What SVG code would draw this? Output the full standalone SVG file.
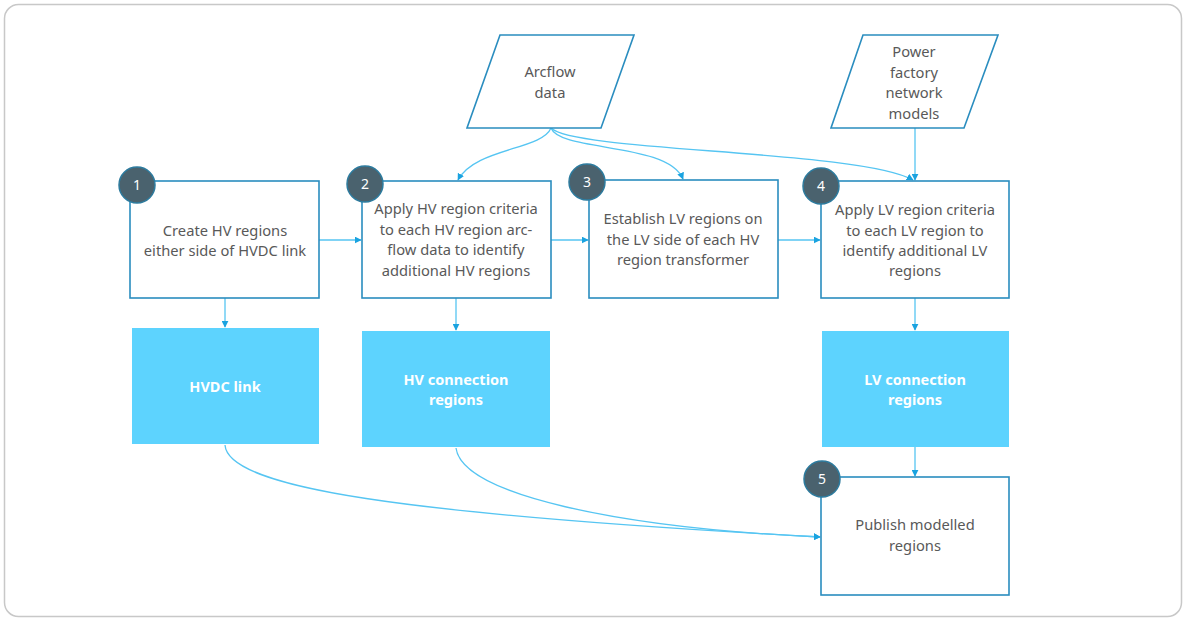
<svg xmlns="http://www.w3.org/2000/svg" width="1186" height="621" viewBox="0 0 1186 621">
<defs>
<marker id="ah" viewBox="0 0 10 10" refX="9" refY="5" markerWidth="7" markerHeight="7" markerUnits="userSpaceOnUse" orient="auto">
<path d="M0,0 L10,5 L0,10 z" fill="#1aa3e0"/>
</marker>
<style>
.box{fill:#ffffff;stroke:#2a8dbf;stroke-width:1.6}
.fill{fill:#5dd3fe;stroke:none}
.num{fill:#4a626e;stroke:#2d7b9e;stroke-width:1.5}
.t{font-family:"Noto Sans","Open Sans",sans-serif;font-size:14.7px;fill:#595959;text-anchor:middle}
.w{font-family:"Noto Sans","Open Sans",sans-serif;font-size:14.5px;font-weight:bold;fill:#ffffff;text-anchor:middle}
.n{font-family:"Noto Sans","Open Sans",sans-serif;font-size:14px;fill:#ffffff;text-anchor:middle}
.c{fill:none;stroke:#56c5f2;stroke-width:1.3;marker-end:url(#ah)}
</style>
</defs>
<rect x="4.5" y="4.5" width="1177" height="612" rx="14" fill="#ffffff" stroke="#c8c8c8" stroke-width="1.5"/>

<g id="connectors">
<path class="c" d="M319,240 L361,240"/>
<path class="c" d="M551,240 L588,240"/>
<path class="c" d="M778,240 L820,240"/>
<path class="c" d="M225,298 L225,327"/>
<path class="c" d="M456,298 L456,330"/>
<path class="c" d="M915,298 L915,330"/>
<path class="c" d="M915,447 L915,476"/>
<path class="c" d="M915,128 L915,180"/>
<path class="c" d="M551,128 C542,150 475,148 458,180"/>
<path class="c" d="M551,128 C560,152 668,142 683,179"/>
<path class="c" d="M551,128 C575,152 860,150 913,180"/>
<path class="c" d="M225,445 C228,488 400,514 820,537"/>
<path class="c" d="M456,448 C462,495 620,528 820,537"/>
</g>

<g id="arcflow">
<polygon class="box" points="500,35 634,35 601,128 467,128"/>
<text class="t" x="550" y="77">Arcflow</text>
<text class="t" x="550" y="98">data</text>
</g>
<g id="power">
<polygon class="box" points="863,35 998,35 964,128 831,128"/>
<text class="t" x="914" y="57">Power</text>
<text class="t" x="914" y="78">factory</text>
<text class="t" x="914" y="98">network</text>
<text class="t" x="914" y="119">models</text>
</g>

<g id="step1">
<rect class="box" x="130" y="181" width="189" height="117"/>
<text class="t" x="225" y="236">Create HV regions</text>
<text class="t" x="225" y="256">either side of HVDC link</text>
<circle class="num" cx="137" cy="185" r="18"/>
<text class="n" x="137" y="190">1</text>
</g>
<g id="step2">
<rect class="box" x="362" y="181" width="189" height="117"/>
<text class="t" x="456" y="214">Apply HV region criteria</text>
<text class="t" x="456" y="235">to each HV region arc-</text>
<text class="t" x="456" y="255">flow data to identify</text>
<text class="t" x="456" y="276">additional HV regions</text>
<circle class="num" cx="365" cy="184" r="18"/>
<text class="n" x="365" y="189">2</text>
</g>
<g id="step3">
<rect class="box" x="589" y="180" width="189" height="118"/>
<text class="t" x="683" y="224">Establish LV regions on</text>
<text class="t" x="683" y="245">the LV side of each HV</text>
<text class="t" x="683" y="265">region transformer</text>
<circle class="num" cx="587" cy="182" r="18"/>
<text class="n" x="587" y="187">3</text>
</g>
<g id="step4">
<rect class="box" x="821" y="181" width="188" height="117"/>
<text class="t" x="915" y="215">Apply LV region criteria</text>
<text class="t" x="915" y="236">to each LV region to</text>
<text class="t" x="915" y="256">identify additional LV</text>
<text class="t" x="915" y="276">regions</text>
<circle class="num" cx="821" cy="186" r="18"/>
<text class="n" x="821" y="191">4</text>
</g>
<g id="hvdc">
<rect class="fill" x="132" y="328" width="187" height="116"/>
<text class="w" x="225" y="392">HVDC link</text>
</g>
<g id="hvconn">
<rect class="fill" x="362" y="331" width="188" height="116"/>
<text class="w" x="456" y="385">HV connection</text>
<text class="w" x="456" y="405">regions</text>
</g>
<g id="lvconn">
<rect class="fill" x="822" y="331" width="187" height="116"/>
<text class="w" x="915" y="385">LV connection</text>
<text class="w" x="915" y="405">regions</text>
</g>
<g id="step5">
<rect class="box" x="821" y="477" width="188" height="118"/>
<text class="t" x="915" y="530">Publish modelled</text>
<text class="t" x="915" y="551">regions</text>
<circle class="num" cx="822" cy="479" r="18"/>
<text class="n" x="822" y="484">5</text>
</g>
</svg>
